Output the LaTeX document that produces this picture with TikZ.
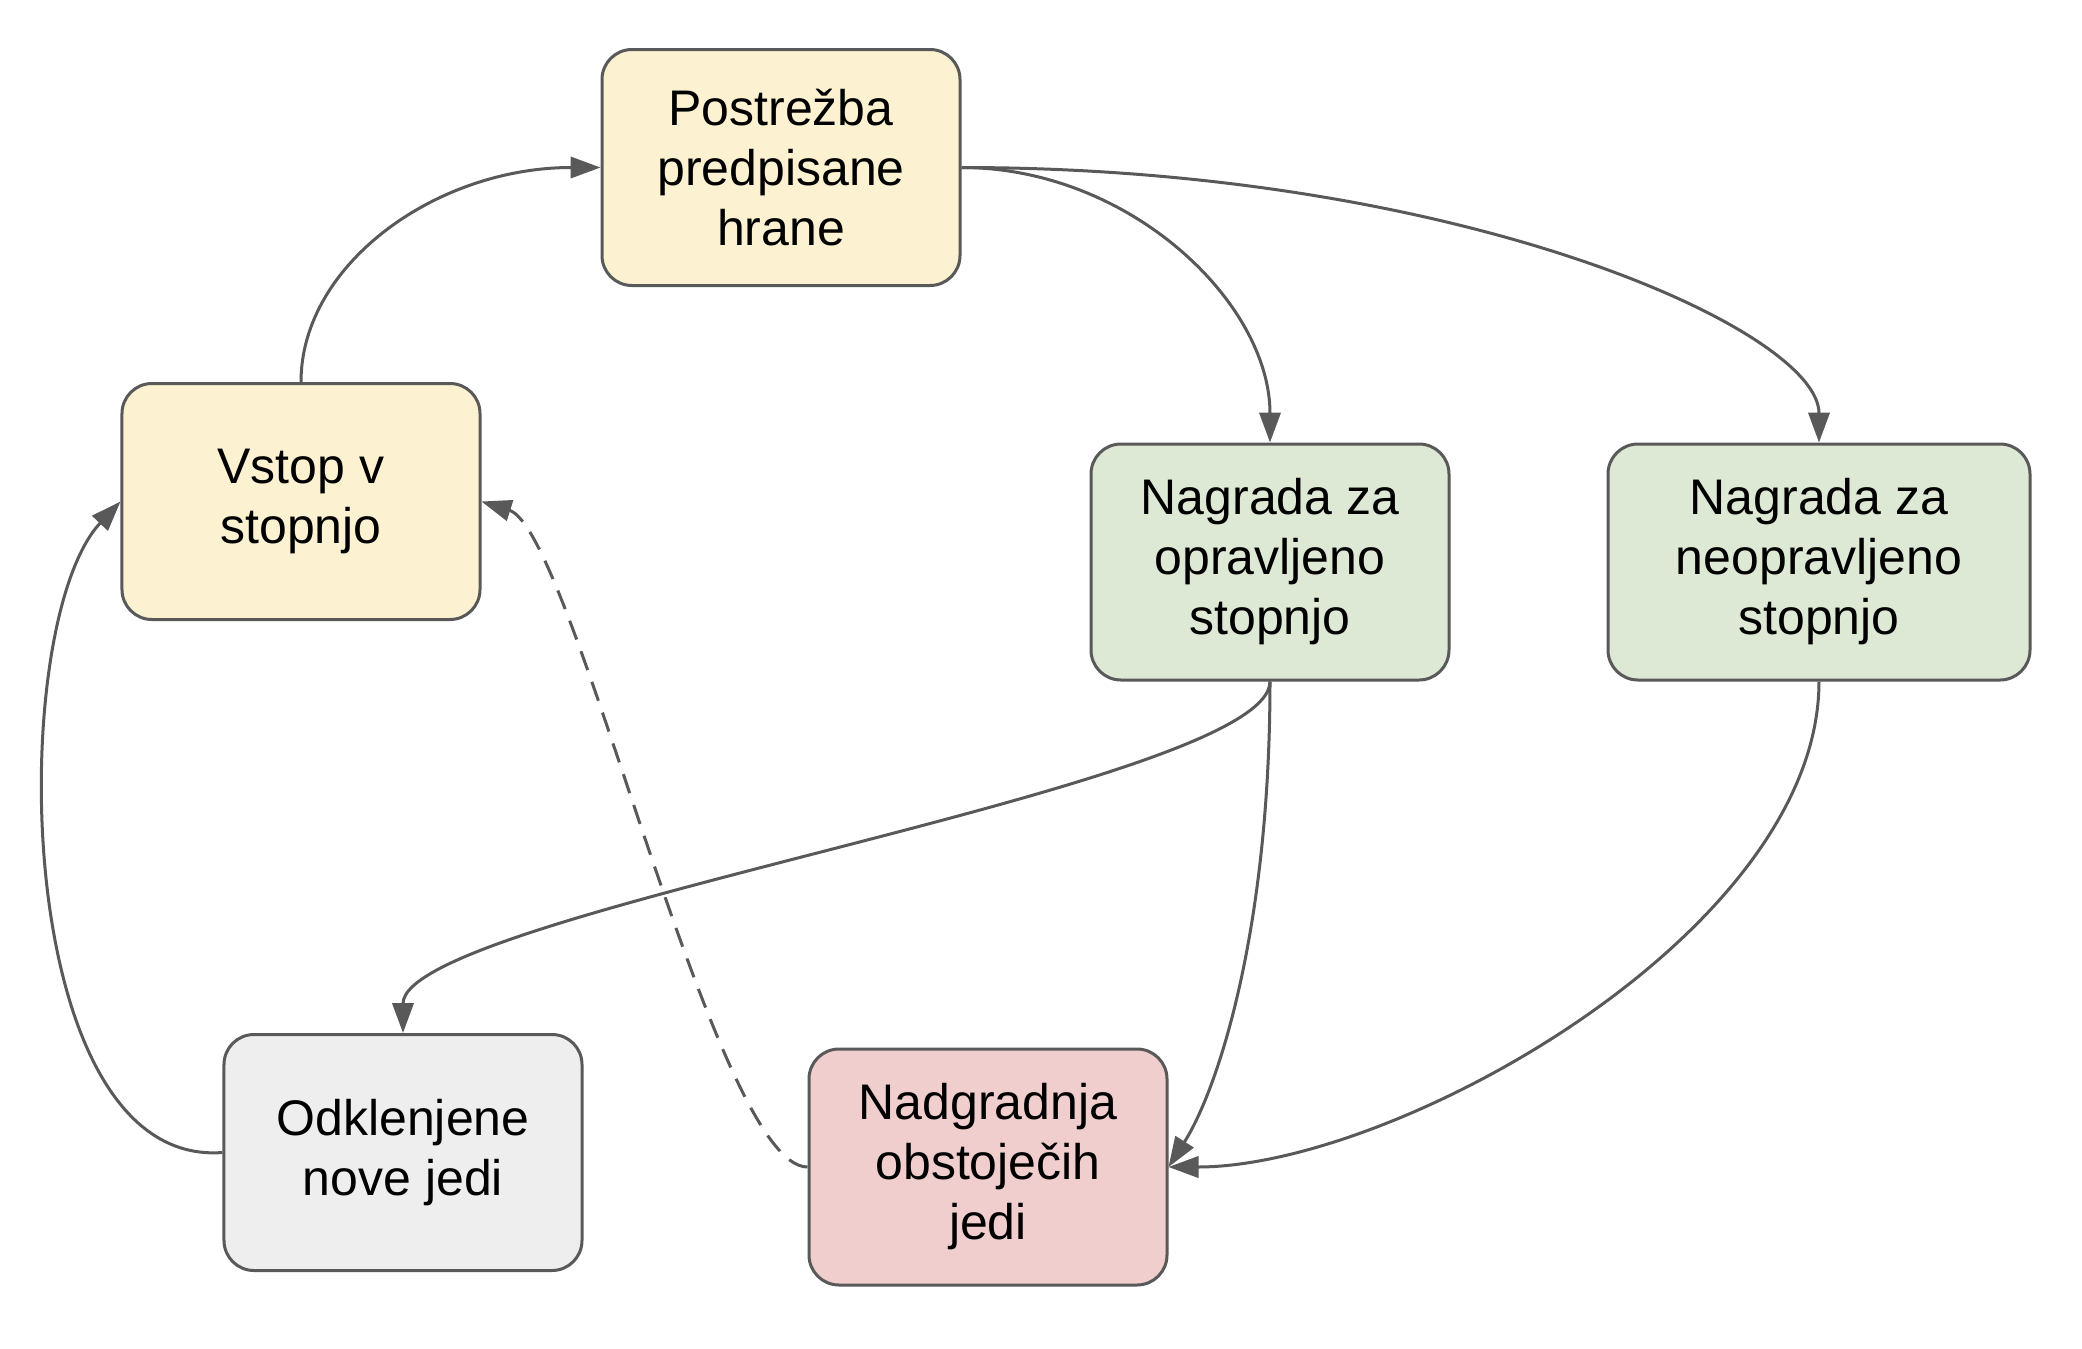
\documentclass[tikz,border=0pt]{standalone}
\usepackage{fontspec}
\setmainfont{Liberation Sans}
\usetikzlibrary{arrows.meta}
\definecolor{bordc}{HTML}{595959}
\definecolor{yel}{HTML}{FCF1D0}
\definecolor{grn}{HTML}{DDE8D5}
\definecolor{rd}{HTML}{EFCECD}
\definecolor{gry}{HTML}{EEEEEE}
\tikzset{
  box/.style={draw=bordc, line width=1.2pt, rounded corners=12pt, inner sep=0pt,
    minimum width=143.2pt, minimum height=94.4pt, align=center,
    font=\fontsize{20pt}{24pt}\selectfont},
  conn/.style={draw=bordc, line width=1.2pt, -{Triangle[length=12pt,width=8.5pt]}},
  dconn/.style={conn, dash pattern=on 8pt off 5pt}
}
\begin{document}
\begin{tikzpicture}[x=0.4pt, y=-0.4pt]
\useasboundingbox (0,0) rectangle (2082,1348);
\fill[white] (0,0) rectangle (2082,1348);
\node[box, fill=yel] (post) at (781,167.5) {Postrežba\\predpisane\\hrane};
\node[box, fill=yel] (vstop) at (301,501.5) {Vstop v\\stopnjo};
\node[box, fill=grn] (nop) at (1270,562) {Nagrada za\\opravljeno\\stopnjo};
\node[box, fill=grn, minimum width=168.8pt] (nneop) at (1819,562) {Nagrada za\\neopravljeno\\stopnjo};
\node[box, fill=gry] (odk) at (403,1152.5) {Odklenjene\\nove jedi};
\node[box, fill=rd] (nad) at (988,1167) {Nadgradnja\\obstoječih\\jedi};

\draw[conn] (vstop.north) .. controls +(0,-118) and +(-164,0) .. (post.west);
\draw[conn] (post.east) .. controls +(169,0) and +(0,-139) .. (nop.north);
\draw[conn] (post.east) .. controls +(500,0) and +(0,-112) .. (nneop.north);
\draw[conn] (nop.south) .. controls +(0,105) and +(0,-120) .. (odk.north);
\draw[conn] (nop.south) .. controls +(0,250) and +(49,-77) .. (nad.east);
\draw[conn] (nneop.south) .. controls +(0,250) and +(228,0) .. (nad.east);
\draw[conn] (odk.west) .. controls +(-212,16) and +(-115,122) .. (vstop.west);
\draw[dconn] (nad.west) .. controls +(-93,0) and +(92,29) .. (vstop.east);
\end{tikzpicture}
\end{document}
